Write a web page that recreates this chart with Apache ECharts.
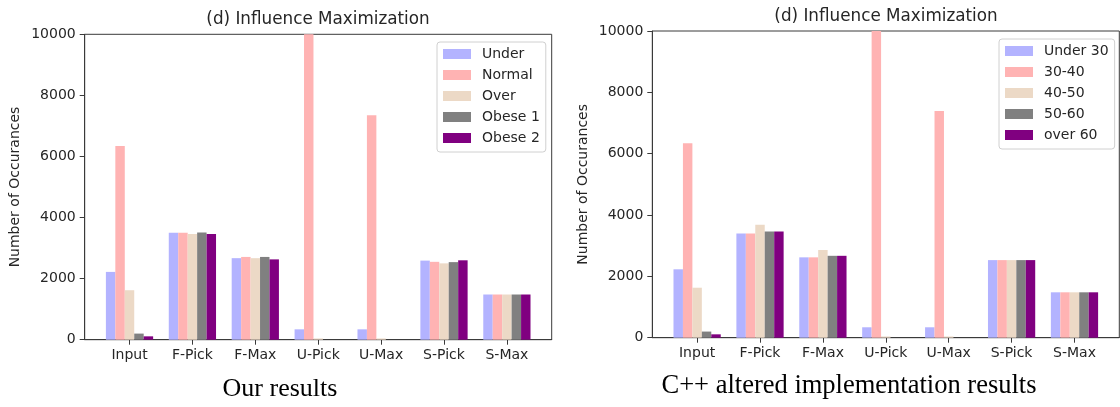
<!DOCTYPE html>
<html>
<head>
<meta charset="utf-8">
<script src="https://cdn.jsdelivr.net/npm/echarts@6/dist/echarts.min.js"></script>
<style>
  html, body { margin: 0; padding: 0; background: #fff; }
  #chart { width: 1120px; height: 407px; }
</style>
</head>
<body>
<div id="chart"></div>
<script>
// Categories along the x axis (shared by both panels)
const categories = ['Input', 'F-Pick', 'F-Max', 'U-Pick', 'U-Max', 'S-Pick', 'S-Max'];

// Left panel: our results
const ourNames   = ['Under', 'Normal', 'Over', 'Obese 1', 'Obese 2'];
const ourUnder   = [2220, 3500, 2670, 340, 340, 2590, 1480];
const ourNormal  = [6340, 3500, 2710, 10000, 7350, 2550, 1480];
const ourOver    = [1620, 3460, 2670, 40, 40, 2500, 1480];
const ourObese1  = [200, 3510, 2710, 0, 0, 2540, 1480];
const ourObese2  = [110, 3460, 2630, 0, 0, 2600, 1480];

// Right panel: C++ altered implementation results
const cppNames   = ['Under 30', '30-40', '40-50', '50-60', 'over 60'];
const cppUnder30 = [2230, 3400, 2620, 340, 340, 2530, 1480];
const cpp30to40  = [6340, 3400, 2620, 10000, 7390, 2530, 1480];
const cpp40to50  = [1630, 3680, 2860, 40, 40, 2530, 1480];
const cpp50to60  = [200, 3460, 2670, 0, 0, 2530, 1480];
const cppOver60  = [110, 3460, 2670, 0, 0, 2530, 1480];

// Y axis range and step
const yMin = 0, yMax = 10000, yStep = 2000;

const palette = ['#b3b3ff', '#ffb3b3', '#ecd9c6', '#808080', '#800080'];
const FONT = 'DejaVu Sans';
const TXT = '#262626';
const LINE = '#3a3a3a';

// x extent: five bars of 0.15 each around every category, plus 5% margins
const BAR = 0.15;
const half = 2.5 * BAR;
const pad = 0.05 * (categories.length - 1 + 2 * half);
const xMin = -half - pad, xMax = categories.length - 1 + half + pad;
const idx = categories.map((c, i) => i);

function makeSeries(names, arrays, axisIndex) {
  return names.map((name, k) => ({
    name: name,
    type: 'bar',
    xAxisIndex: axisIndex,
    yAxisIndex: axisIndex,
    barWidth: 9.45,
    barGap: '0%',
    itemStyle: { color: palette[k] },
    emphasis: { disabled: true },
    data: arrays[k].map((v, i) => [i, v])
  }));
}

function xAxisFor(gridIndex) {
  return {
    type: 'value', gridIndex: gridIndex, min: xMin, max: xMax,
    splitLine: { show: false },
    axisLine: { show: true, onZero: false, lineStyle: { color: LINE, width: 1 } },
    axisTick: { show: true, customValues: idx, length: 5, lineStyle: { color: LINE } },
    axisLabel: {
      customValues: idx, margin: 9,
      formatter: v => categories[Math.round(v)],
      fontFamily: FONT, fontSize: 14, color: TXT
    }
  };
}

function yAxisFor(gridIndex) {
  return {
    type: 'value', gridIndex: gridIndex, min: yMin, max: yMax, interval: yStep,
    name: 'Number of Occurances', nameLocation: 'middle', nameRotate: 90, nameGap: 62,
    nameTextStyle: { fontFamily: FONT, fontSize: 14, color: TXT },
    splitLine: { show: false },
    axisLine: { show: true, onZero: false, lineStyle: { color: LINE, width: 1 } },
    axisTick: { show: true, length: 5, lineStyle: { color: LINE } },
    axisLabel: { margin: 9, fontFamily: FONT, fontSize: 14, color: TXT, formatter: v => String(v) }
  };
}

function legendFor(names, left, top) {
  return {
    data: names, orient: 'vertical', left: left, top: top,
    icon: 'rect', itemWidth: 28, itemHeight: 10, itemGap: 7,
    padding: [5, 6, 7, 6],
    backgroundColor: '#ffffff', borderColor: '#d0d0d0', borderWidth: 1, borderRadius: 3,
    selectedMode: false,
    textStyle: { fontFamily: FONT, fontSize: 14, color: TXT, lineHeight: 14, padding: [0, 0, 0, 6] }
  };
}

const chart = echarts.init(document.getElementById('chart'), null, { renderer: 'canvas' });

chart.setOption({
  animation: false,
  backgroundColor: '#ffffff',
  title: [
    { text: '(d) Influence Maximization', left: 318, top: 11, textAlign: 'center', padding: 0,
      textStyle: { fontFamily: FONT, fontSize: 16.8, fontWeight: 'normal', color: TXT } },
    { text: '(d) Influence Maximization', left: 886, top: 8, textAlign: 'center', padding: 0,
      textStyle: { fontFamily: FONT, fontSize: 16.8, fontWeight: 'normal', color: TXT } }
  ],
  legend: [
    legendFor(ourNames, 437, 42),
    legendFor(cppNames, 999, 39)
  ],
  grid: [
    { left: 84.7, top: 34.3, width: 467, height: 305.4, show: true, borderColor: LINE, borderWidth: 1, backgroundColor: 'transparent' },
    { left: 652.3, top: 31, width: 467, height: 306.7, show: true, borderColor: LINE, borderWidth: 1, backgroundColor: 'transparent' }
  ],
  xAxis: [xAxisFor(0), xAxisFor(1)],
  yAxis: [yAxisFor(0), yAxisFor(1)],
  series: [
    ...makeSeries(ourNames, [ourUnder, ourNormal, ourOver, ourObese1, ourObese2], 0),
    ...makeSeries(cppNames, [cppUnder30, cpp30to40, cpp40to50, cpp50to60, cppOver60], 1)
  ],
  // Panel captions under each chart
  graphic: [
    { type: 'text',
      style: { text: 'Our results', x: 280, y: 402, textAlign: 'center', textVerticalAlign: 'bottom',
               font: '26px "Liberation Serif"', fill: '#000' } },
    { type: 'text',
      style: { text: 'C++ altered implementation results', x: 849, y: 400, textAlign: 'center', textVerticalAlign: 'bottom',
               font: '26.5px "Liberation Serif"', fill: '#000' } }
  ]
});
</script>
</body>
</html>
